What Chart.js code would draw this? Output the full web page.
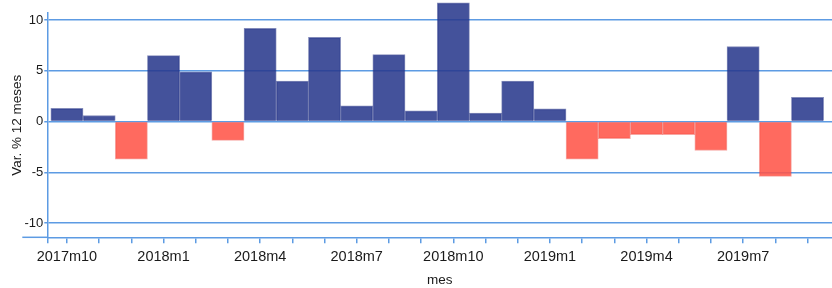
<!DOCTYPE html>
<html lang="es">
<head>
<meta charset="UTF-8">
<title>Var. % 12 meses</title>
<script src="https://cdn.jsdelivr.net/npm/chart.js"></script>
<style>
    html, body { margin: 0; padding: 0; background: #fff; }
    #wrap { width: 832px; height: 288px; position: relative; }
</style>
</head>
<body>
<div id="wrap"><canvas id="chart"></canvas></div>
<script>
// datos
const months = ['2017m10', '2017m11', '2017m12', '2018m1', '2018m2', '2018m3', '2018m4', '2018m5',
    '2018m6', '2018m7', '2018m8', '2018m9', '2018m10', '2018m11', '2018m12', '2019m1', '2019m2',
    '2019m3', '2019m4', '2019m5', '2019m6', '2019m7', '2019m8', '2019m9'];
const varPct = [1.3, 0.6, -3.7, 6.5, 4.9, -1.85, 9.2, 4.0, 8.3, 1.55, 6.6, 1.05, 11.7, 0.85,
    4.0, 1.25, -3.7, -1.67, -1.28, -1.28, -2.85, 7.4, -5.4, 2.4];
const yTicks = [-10, -5, 0, 5, 10];

const gridBlue = '#5d9be3';
const font = '"Liberation Sans", Arial, Helvetica, sans-serif';
const xMin = -0.61, xMax = 23.76;

// prolonga la línea del eje x a la izquierda del eje y
const axisStub = {
    id: 'axisStub',
    afterDraw(chart) {
        const { ctx, chartArea } = chart;
        ctx.save();
        ctx.strokeStyle = gridBlue;
        ctx.lineWidth = 1.5;
        ctx.beginPath();
        ctx.moveTo(chartArea.left - 25, chartArea.bottom);
        ctx.lineTo(chartArea.left, chartArea.bottom);
        ctx.stroke();
        ctx.restore();
    }
};

new Chart(document.getElementById('chart'), {
    type: 'bar',
    data: {
        datasets: [{
            data: varPct.map((v, i) => ({ x: i, y: v })),
            backgroundColor: varPct.map(v => v >= 0 ? 'rgba(40,56,140,0.87)' : 'rgba(255,84,71,0.87)'),
            borderColor: varPct.map(v => v >= 0 ? 'rgba(30,44,130,0.55)' : 'rgba(235,60,50,0.45)'),
            borderWidth: 1,
            barThickness: 'flex',
            barPercentage: 1,
            categoryPercentage: 1,
            clip: false
        }]
    },
    options: {
        responsive: true,
        maintainAspectRatio: false,
        animation: false,
        layout: { padding: { top: 13, right: 0, left: 0, bottom: 0 } },
        plugins: {
            legend: { display: false },
            tooltip: { enabled: false }
        },
        scales: {
            x: {
                type: 'linear',
                offset: false,
                min: xMin,
                max: xMax,
                afterBuildTicks: s => { s.ticks = [{ value: xMin }].concat(months.map((m, i) => ({ value: i }))); },
                afterFit: s => { s.height = 50.7; },
                ticks: {
                    autoSkip: false,
                    maxRotation: 0,
                    padding: 5,
                    color: '#1a1a1a',
                    font: { family: font, size: 14.5 },
                    callback: v => (Number.isInteger(v) && v % 3 === 0) ? months[v] : ''
                },
                grid: { offset: false, drawOnChartArea: false, drawTicks: true, tickLength: 6, color: gridBlue, lineWidth: 1.5 },
                border: { display: true, color: gridBlue, width: 1.5 },
                title: {
                    display: true,
                    text: 'mes',
                    color: '#1a1a1a',
                    font: { family: font, size: 13.5 },
                    padding: { top: 0, bottom: 0 }
                }
            },
            y: {
                min: -11.4,
                max: 10.7,
                afterBuildTicks: s => { s.ticks = yTicks.map(v => ({ value: v })); },
                afterFit: s => { s.width = 47.3; },
                ticks: {
                    padding: 1,
                    color: '#1a1a1a',
                    font: { family: font, size: 13 }
                },
                grid: { color: gridBlue, lineWidth: 1.5, tickLength: 3 },
                border: { display: true, color: gridBlue, width: 1.5 },
                title: {
                    display: true,
                    text: 'Var. % 12 meses',
                    color: '#1a1a1a',
                    font: { family: font, size: 13.5 },
                    padding: { top: 9, bottom: 0 }
                }
            }
        }
    },
    plugins: [axisStub]
});
</script>
</body>
</html>
